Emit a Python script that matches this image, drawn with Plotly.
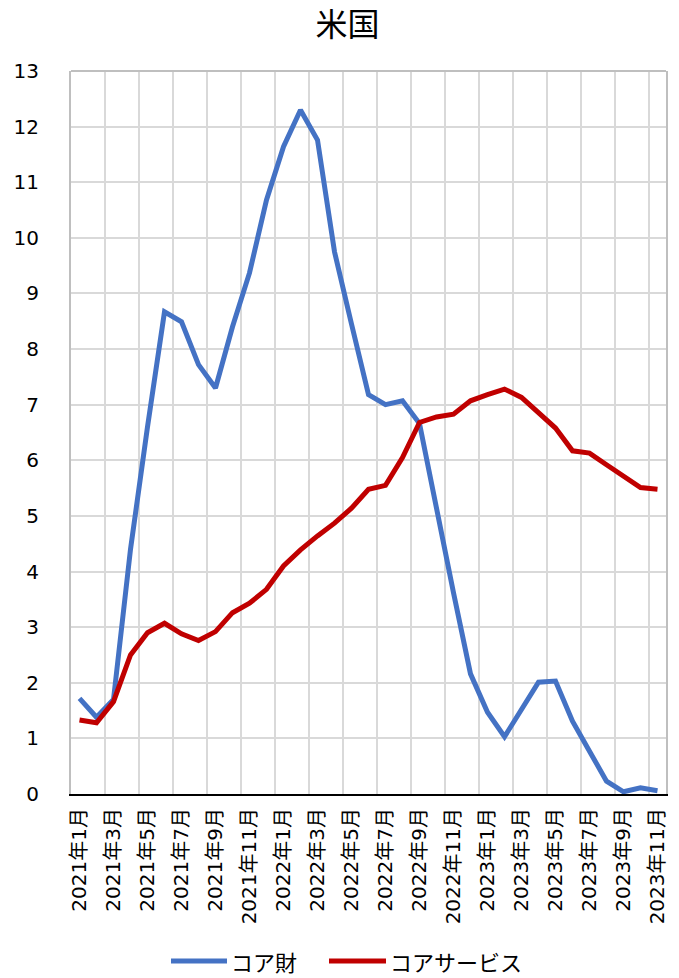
import plotly.graph_objects as go

months = [f"{y}年{m}月" for y in (2021, 2022, 2023) for m in range(1, 13)][:35]

core_goods = [1.72, 1.38, 1.70, 4.40, 6.60, 8.67, 8.49, 7.72, 7.30, 8.40,
              9.37, 10.68, 11.64, 12.30, 11.76, 9.75, 8.45, 7.18, 7.00, 7.07,
              6.66, 5.10, 3.62, 2.16, 1.47, 1.03, 1.53, 2.01, 2.03, 1.31,
              0.77, 0.23, 0.04, 0.11, 0.06]

core_services = [1.33, 1.28, 1.66, 2.50, 2.90, 3.07, 2.88, 2.76, 2.92, 3.26,
                 3.43, 3.68, 4.10, 4.39, 4.64, 4.87, 5.14, 5.48, 5.55, 6.05,
                 6.68, 6.78, 6.83, 7.07, 7.18, 7.28, 7.13, 6.86, 6.58, 6.17,
                 6.13, 5.92, 5.71, 5.51, 5.48]

series_names = ["コア財", "コアサービス"]
series_colors = ["#4472C4", "#C00000"]
y_ticks = list(range(0, 14))

idx = list(range(len(months)))
FONT = "DejaVu Sans, Noto Sans CJK JP"
CJK = "Noto Sans CJK JP"

fig = go.Figure()
for vals, name, col in zip([core_goods, core_services], series_names, series_colors):
    fig.add_trace(go.Scatter(x=idx, y=vals, mode="lines", name=name,
                             line=dict(color=col, width=5), showlegend=False))

fig.update_layout(
    width=679, height=978,
    margin=dict(l=71, r=13, t=71, b=184),
    paper_bgcolor="white", plot_bgcolor="white",
    font=dict(family=FONT, color="black"),
    title=dict(text="米国", x=347.5 / 679, xref="container", xanchor="center",
               y=1 - 25 / 978, yref="container", yanchor="middle",
               font=dict(size=32, family=CJK, color="black")),
    showlegend=False,
    xaxis=dict(
        range=[-0.5, len(months) - 0.5], automargin=False,
        tickmode="array", tickvals=idx[::2], ticktext=months[::2],
        tickangle=-90, tickfont=dict(size=20, family=FONT, color="black"),
        showgrid=False, zeroline=False,
        showline=True, linecolor="black", linewidth=2, mirror=False,
        ticks="", ticklabelstandoff=4,
        minor=dict(tickmode="array", tickvals=[i - 0.5 for i in idx[2::2]],
                   showgrid=True, gridcolor="#d9d9d9", gridwidth=1.5, ticks=""),
    ),
    yaxis=dict(
        range=[0, 13], tickmode="array", tickvals=y_ticks, automargin=False,
        tickfont=dict(size=20, family=FONT, color="black"),
        showgrid=True, gridcolor="#d9d9d9", gridwidth=1.5,
        zeroline=False, showline=True, linecolor="#bfbfbf", linewidth=2, mirror=True,
        ticks="", ticklabelstandoff=26,
    ),
)

fig.add_shape(type="line", xref="paper", yref="paper", x0=0, x1=1, y0=1, y1=1,
              line=dict(color="#bfbfbf", width=2), layer="above")

# legend drawn manually (longer line samples as in the reference)
plot_w, plot_h, left, bottom = 595.0, 723.0, 71.0, 794.0
leg_y = (bottom - 961) / plot_h
legend_pos = [(171, 227, 229), (329, 386, 388)]
for (x0, x1, xt), name, col in zip(legend_pos, series_names, series_colors):
    fig.add_shape(type="line", xref="paper", yref="paper",
                  x0=(x0 - left) / plot_w, x1=(x1 - left) / plot_w, y0=leg_y, y1=leg_y,
                  line=dict(color=col, width=5))
    fig.add_annotation(text=name, xref="paper", yref="paper",
                       x=(xt - left) / plot_w, y=leg_y, xanchor="left", yanchor="middle",
                       showarrow=False, font=dict(size=22, family=CJK, color="black"))

fig.write_html("out.html", config={"displayModeBar": False},
               post_script="document.body.style.margin='0';document.body.style.padding='0';")
